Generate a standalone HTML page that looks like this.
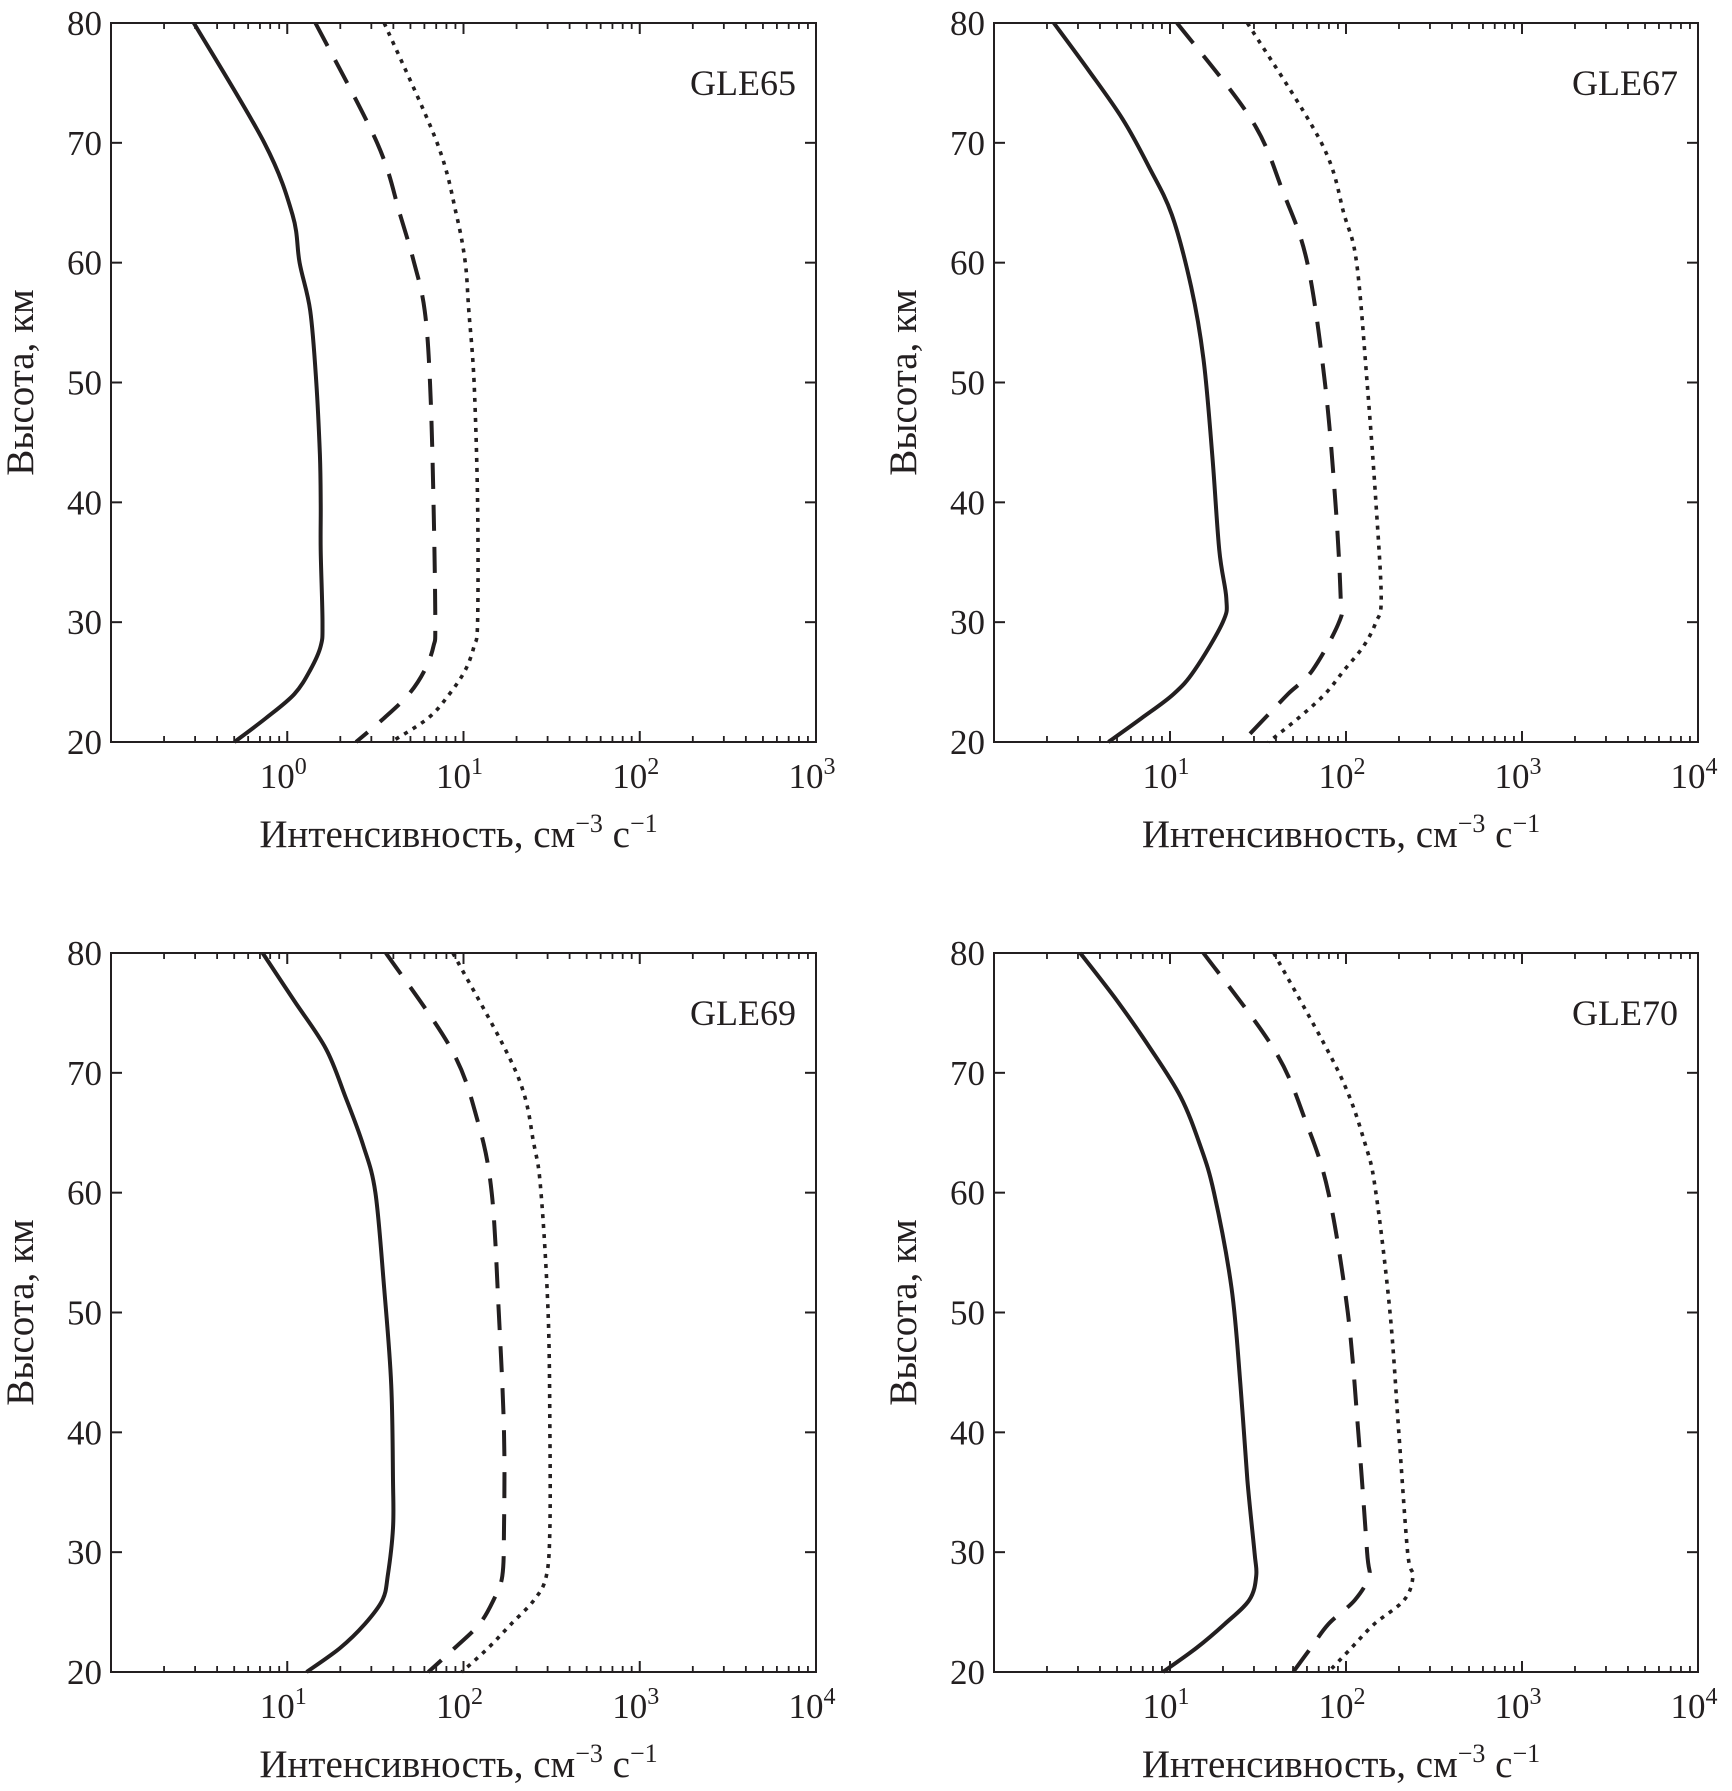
<!DOCTYPE html>
<html><head><meta charset="utf-8"><style>
html,body{margin:0;padding:0;background:#fff}
svg{display:block}
text{font-family:"Liberation Serif",serif;fill:#231f20}
</style></head><body>
<svg id="fig" width="1732" height="1791" viewBox="0 0 1732 1791"></svg>
<script>
// log10 intensity per panel & series (solid, dashed, dotted) sampled at altitudes (km)
const p1Alt=[80,70,64,60,56,50,44,40,36,30,28,26,24,22,20];
const p1Solid=[-0.53,-0.13,0.03,0.07,0.13,0.165,0.185,0.19,0.19,0.2,0.19,0.13,0.04,-0.12,-0.30];
const p1DashAlt=[80,70,64,60,56,50,40,30,28,26,24,22,20];
const p1Dash=[0.16,0.51,0.64,0.72,0.78,0.81,0.83,0.84,0.83,0.78,0.69,0.55,0.39];
const p1Dot=[0.55,0.85,0.96,1.01,1.03,1.06,1.08,1.08,1.06,1.01,0.92,0.80,0.59];
const p2SolidAlt=[80,76,72,68,64,58,52,44,36,32,30,26,24,22,20];
const p2Solid=[0.34,0.54,0.73,0.88,1.01,1.12,1.19,1.24,1.28,1.32,1.30,1.14,1.02,0.84,0.65];
const p2DashAlt=[80,72,66,60,50,40,32,30,26,24,22,20];
const p2Dash=[1.04,1.46,1.64,1.78,1.88,1.94,1.97,1.96,1.81,1.67,1.54,1.41];
const p2DotAlt=[80,70,64,60,50,40,32,30,28,26,24,22,20];
const p2Dot=[1.44,1.86,1.99,2.06,2.12,2.17,2.20,2.17,2.10,1.99,1.88,1.73,1.56];
const p3SolidAlt=[80,76,72,68,64,60,52,44,36,32,28,26,24,22,20];
const p3Solid=[0.86,1.04,1.22,1.33,1.43,1.50,1.55,1.59,1.60,1.60,1.57,1.54,1.44,1.30,1.11];
const p3DashAlt=[80,72,66,60,50,40,32,28,26,24,22,20];
const p3Dash=[1.56,1.93,2.08,2.16,2.20,2.23,2.23,2.22,2.17,2.09,1.95,1.80];
const p3DotAlt=[80,70,64,60,50,40,32,28,26,24,22,20];
const p3Dot=[1.94,2.30,2.40,2.44,2.48,2.49,2.49,2.47,2.40,2.27,2.14,1.99];
const p4SolidAlt=[80,76,72,68,64,60,52,44,36,30,28,26,24,22,20];
const p4Solid=[0.49,0.70,0.89,1.06,1.17,1.25,1.35,1.40,1.44,1.48,1.49,1.45,1.31,1.15,0.96];
const p4DashAlt=[80,72,66,60,50,40,30,28,26,24,22,20];
const p4Dash=[1.19,1.59,1.77,1.90,2.01,2.07,2.12,2.13,2.05,1.90,1.80,1.70];
const p4DotAlt=[80,70,64,60,50,40,30,28,26,24,22,20];
const p4Dot=[1.59,1.96,2.11,2.17,2.25,2.30,2.35,2.38,2.33,2.16,2.03,1.90];
const yTicks=[20,30,40,50,60,70,80];
const panelTitles=["GLE65","GLE67","GLE69","GLE70"];

const NS="http://www.w3.org/2000/svg";
const svg=document.getElementById('fig');
function mk(tag,attrs,parent){const e=document.createElementNS(NS,tag);for(const k in attrs)e.setAttribute(k,attrs[k]);(parent||svg).appendChild(e);return e;}

const panels=[
 {L:111,R:816,T:23,B:742,xmin:-1,xmax:3,labels:[0,1,2,3],series:[[p1Alt,p1Solid],[p1DashAlt,p1Dash],[p1DashAlt,p1Dot]]},
 {L:994,R:1698,T:23,B:742,xmin:0,xmax:4,labels:[1,2,3,4],series:[[p2SolidAlt,p2Solid],[p2DashAlt,p2Dash],[p2DotAlt,p2Dot]]},
 {L:111,R:816,T:953,B:1672,xmin:0,xmax:4,labels:[1,2,3,4],series:[[p3SolidAlt,p3Solid],[p3DashAlt,p3Dash],[p3DotAlt,p3Dot]]},
 {L:994,R:1698,T:953,B:1672,xmin:0,xmax:4,labels:[1,2,3,4],series:[[p4SolidAlt,p4Solid],[p4DashAlt,p4Dash],[p4DotAlt,p4Dot]]}
];
const styles=[{w:4,d:null,n:'solid-line'},{w:4,d:'26 16',n:'dashed-line'},{w:3.6,d:'4 6',n:'dotted-line'}];

function smoothPath(pts){
 let d='M'+pts[0][0].toFixed(1)+' '+pts[0][1].toFixed(1);
 for(let i=0;i<pts.length-1;i++){
  const p0=pts[Math.max(0,i-1)],p1=pts[i],p2=pts[i+1],p3=pts[Math.min(pts.length-1,i+2)];
  const c1=[p1[0]+(p2[0]-p0[0])/6,p1[1]+(p2[1]-p0[1])/6];
  const c2=[p2[0]-(p3[0]-p1[0])/6,p2[1]-(p3[1]-p1[1])/6];
  d+=' C'+c1[0].toFixed(1)+' '+c1[1].toFixed(1)+' '+c2[0].toFixed(1)+' '+c2[1].toFixed(1)+' '+p2[0].toFixed(1)+' '+p2[1].toFixed(1);
 }
 return d;
}

panels.forEach((p,i)=>{
 const g=mk('g',{});
 
 
 const xs=v=>p.L+(v-p.xmin)/(p.xmax-p.xmin)*(p.R-p.L);
 const ys=a=>p.B-(a-20)/60*(p.B-p.T);
 p.series.forEach((s,k)=>{
  const [alt,val]=s;
  const pts=alt.map((a,j)=>[xs(val[j]),ys(a)]);
  const path=mk('path',{d:smoothPath(pts),fill:'none',stroke:'#231f20','stroke-width':styles[k].w,'stroke-linejoin':'round'},g);
  if(styles[k].d)path.setAttribute('stroke-dasharray',styles[k].d);
  
  
 });
 const fr=mk('rect',{x:p.L,y:p.T,width:p.R-p.L,height:p.B-p.T,fill:'none',stroke:'#231f20','stroke-width':2},g);
 
 
 yTicks.forEach(t=>{
  const y=ys(t);
  mk('line',{x1:p.L,x2:p.L+11,y1:y,y2:y,stroke:'#231f20','stroke-width':2},g);
  mk('line',{x1:p.R,x2:p.R-11,y1:y,y2:y,stroke:'#231f20','stroke-width':2},g);
  const tx=mk('text',{x:p.L-9,y:y+12,'text-anchor':'end','font-size':35},g);
  tx.textContent=t;
  
  
 });
 for(let e=p.xmin;e<p.xmax;e++){
  for(let m=1;m<=10;m++){
   const x=xs(e+Math.log10(m));
   const len=(m===1||m===10)?11:6;
   mk('line',{x1:x,x2:x,y1:p.B,y2:p.B-len,stroke:'#231f20','stroke-width':1.8},g);
   mk('line',{x1:x,x2:x,y1:p.T,y2:p.T+len,stroke:'#231f20','stroke-width':1.8},g);
  }
 }
 p.labels.forEach(e=>{
  const t=mk('text',{x:xs(e)-4,y:p.B+46,'text-anchor':'middle','font-size':35},g);
  
  
  t.appendChild(document.createTextNode('10'));
  const sp=mk('tspan',{dy:-14,'font-size':24},t);sp.textContent=e;
 });
 const xt=mk('text',{x:(p.L+p.R)/2-5,y:p.B+105,'text-anchor':'middle','font-size':39},g);
 
 
 xt.appendChild(document.createTextNode('Интенсивность, см'));
 const s1=mk('tspan',{dy:-15,'font-size':26},xt);s1.textContent='−3';
 const s2=mk('tspan',{dy:15},xt);s2.textContent=' с';
 const s3=mk('tspan',{dy:-15,'font-size':26},xt);s3.textContent='−1';
 const cy=(p.T+p.B)/2, cx=p.L-78;
 const yt=mk('text',{x:cx,y:cy,'text-anchor':'middle','font-size':39,transform:`rotate(-90 ${cx} ${cy})`},g);
 yt.textContent='Высота, км';
 
 
 const pt=mk('text',{x:p.R-20,y:p.T+72,'text-anchor':'end','font-size':36},g);
 pt.textContent=panelTitles[i];
 
 
});
</script>
</body></html>
